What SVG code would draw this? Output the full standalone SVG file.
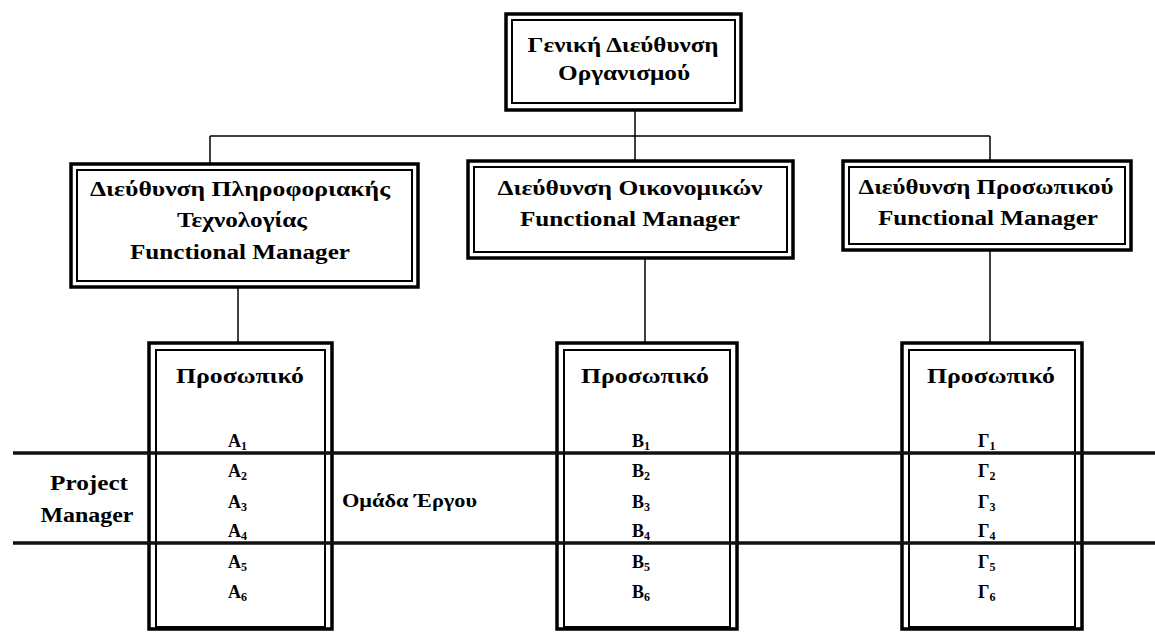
<svg xmlns="http://www.w3.org/2000/svg" width="1155" height="632" viewBox="0 0 1155 632">
<style>
.o{fill:none;stroke:#000;stroke-width:3.5}
.i{fill:none;stroke:#000;stroke-width:2}
.c{fill:none;stroke:#000;stroke-width:1.5}
.h{fill:none;stroke:#111;stroke-width:3.5}
text{font-family:"Liberation Serif","DejaVu Serif",serif;font-weight:bold;fill:#000}
.t{font-size:20px;text-anchor:middle}
.l{font-size:18px}
.s{font-size:12px}
</style>
<rect width="1155" height="632" fill="#fff"/>
<g id="connectors">
<line class="c" x1="635" y1="110" x2="635" y2="160"/>
<line class="c" x1="210" y1="136" x2="990" y2="136"/>
<line class="c" x1="210" y1="136" x2="210" y2="163"/>
<line class="c" x1="990" y1="136" x2="990" y2="160"/>
<line class="c" x1="238" y1="287" x2="238" y2="342"/>
<line class="c" x1="645" y1="258" x2="645" y2="342"/>
<line class="c" x1="990" y1="250" x2="990" y2="342"/>
</g>
<g id="top">
<rect class="o" x="506" y="14" width="235" height="96"/>
<rect class="i" x="512" y="20" width="223" height="83"/>
<text class="t" x="623" y="52" textLength="191" lengthAdjust="spacingAndGlyphs">Γενική Διεύθυνση</text>
<text class="t" x="624" y="80" textLength="132" lengthAdjust="spacingAndGlyphs">Οργανισμού</text>
</g>
<g id="it">
<rect class="o" x="71" y="164" width="347" height="123"/>
<rect class="i" x="77" y="170" width="335" height="111"/>
<text class="t" x="240" y="196" textLength="300" lengthAdjust="spacingAndGlyphs">Διεύθυνση Πληροφοριακής</text>
<text class="t" x="242" y="227" textLength="130" lengthAdjust="spacingAndGlyphs">Τεχνολογίας</text>
<text class="t" x="240" y="259" textLength="220" lengthAdjust="spacingAndGlyphs">Functional Manager</text>
</g>
<g id="fin">
<rect class="o" x="468" y="161" width="325" height="97"/>
<rect class="i" x="474" y="167" width="313" height="85"/>
<text class="t" x="630" y="195" textLength="265" lengthAdjust="spacingAndGlyphs">Διεύθυνση Οικονομικών</text>
<text class="t" x="630" y="226" textLength="220" lengthAdjust="spacingAndGlyphs">Functional Manager</text>
</g>
<g id="hr">
<rect class="o" x="843" y="161" width="288" height="89"/>
<rect class="i" x="849" y="167" width="276" height="77"/>
<text class="t" x="986" y="194" textLength="255" lengthAdjust="spacingAndGlyphs">Διεύθυνση Προσωπικού</text>
<text class="t" x="988" y="225" textLength="220" lengthAdjust="spacingAndGlyphs">Functional Manager</text>
</g>
<g id="staffA">
<rect class="o" x="149" y="343" width="183" height="286"/>
<rect class="i" x="156" y="350" width="169" height="277"/>
<text class="t" x="240" y="383" textLength="128" lengthAdjust="spacingAndGlyphs">Προσωπικό</text>
<text class="l" x="228" y="447">A<tspan class="s" dy="3">1</tspan></text>
<text class="l" x="228" y="477">A<tspan class="s" dy="3">2</tspan></text>
<text class="l" x="228" y="508">A<tspan class="s" dy="3">3</tspan></text>
<text class="l" x="228" y="537">A<tspan class="s" dy="3">4</tspan></text>
<text class="l" x="228" y="568">A<tspan class="s" dy="3">5</tspan></text>
<text class="l" x="228" y="598">A<tspan class="s" dy="3">6</tspan></text>
</g>
<g id="staffB">
<rect class="o" x="557" y="343" width="180" height="286"/>
<rect class="i" x="564" y="350" width="166" height="277"/>
<text class="t" x="645" y="383" textLength="128" lengthAdjust="spacingAndGlyphs">Προσωπικό</text>
<text class="l" x="632" y="447">B<tspan class="s" dy="3">1</tspan></text>
<text class="l" x="632" y="477">B<tspan class="s" dy="3">2</tspan></text>
<text class="l" x="632" y="508">B<tspan class="s" dy="3">3</tspan></text>
<text class="l" x="632" y="537">B<tspan class="s" dy="3">4</tspan></text>
<text class="l" x="632" y="568">B<tspan class="s" dy="3">5</tspan></text>
<text class="l" x="632" y="598">B<tspan class="s" dy="3">6</tspan></text>
</g>
<g id="staffC">
<rect class="o" x="902" y="343" width="180" height="286"/>
<rect class="i" x="909" y="350" width="166" height="277"/>
<text class="t" x="991" y="383" textLength="128" lengthAdjust="spacingAndGlyphs">Προσωπικό</text>
<text class="l" x="978" y="447">Γ<tspan class="s" dy="3">1</tspan></text>
<text class="l" x="978" y="477">Γ<tspan class="s" dy="3">2</tspan></text>
<text class="l" x="978" y="508">Γ<tspan class="s" dy="3">3</tspan></text>
<text class="l" x="978" y="537">Γ<tspan class="s" dy="3">4</tspan></text>
<text class="l" x="978" y="568">Γ<tspan class="s" dy="3">5</tspan></text>
<text class="l" x="978" y="598">Γ<tspan class="s" dy="3">6</tspan></text>
</g>
<g id="project">
<line class="h" x1="13" y1="453" x2="1155" y2="453"/>
<line class="h" x1="13" y1="543" x2="1155" y2="543"/>
<text class="t" x="89" y="490" textLength="78" lengthAdjust="spacingAndGlyphs">Project</text>
<text class="t" x="87" y="522" textLength="93" lengthAdjust="spacingAndGlyphs">Manager</text>
<text class="l" x="342" y="507" textLength="135" lengthAdjust="spacingAndGlyphs">Ομάδα Έργου</text>
</g>
</svg>
